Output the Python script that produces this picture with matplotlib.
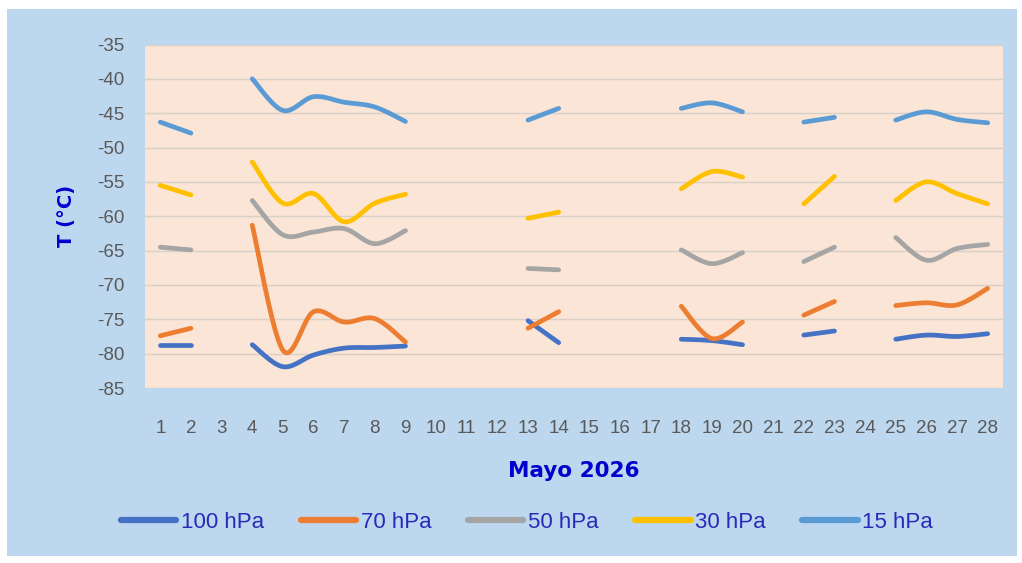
import numpy as np
import matplotlib
matplotlib.use("Agg")
import matplotlib.pyplot as plt
from matplotlib.patches import Rectangle
from matplotlib.lines import Line2D

# Days of May 2026 and daily temperatures (°C) at each pressure level; None = no sounding
days = list(range(1, 29))
N = None
t100 = [-78.7, -78.7, N, -78.7, -81.9, -80.2, -79.2, -79.1, -78.9, N, N, N, -75.2, -78.4,
        N, N, N, -77.9, -78.1, -78.7, N, -77.3, -76.7, N, -77.9, -77.3, -77.5, -77.1]
t70 = [-77.4, -76.3, N, -61.3, -79.5, -73.9, -75.4, -74.9, -78.3, N, N, N, -76.3, -73.9,
       N, N, N, -73.1, -77.8, -75.4, N, -74.4, -72.4, N, -73.0, -72.6, -72.9, -70.5]
t50 = [-64.5, -64.9, N, -57.7, -62.7, -62.3, -61.8, -64.0, -62.1, N, N, N, -67.6, -67.8,
       N, N, N, -64.9, -66.9, -65.3, N, -66.6, -64.5, N, -63.1, -66.4, -64.7, -64.1]
t30 = [-55.5, -56.9, N, -52.1, -58.1, -56.7, -60.8, -58.1, -56.8, N, N, N, -60.3, -59.4,
       N, N, N, -56.0, -53.5, -54.3, N, -58.2, -54.2, N, -57.7, -55.0, -56.7, -58.2]
t15 = [-46.3, -47.9, N, -40.0, -44.6, -42.6, -43.4, -44.1, -46.2, N, N, N, -46.0, -44.3,
       N, N, N, -44.3, -43.5, -44.8, N, -46.3, -45.6, N, -46.0, -44.8, -45.9, -46.4]

series = [("100 hPa", t100, "#4472C4"),
          ("70 hPa", t70, "#ED7D31"),
          ("50 hPa", t50, "#A5A5A5"),
          ("30 hPa", t30, "#FFC000"),
          ("15 hPa", t15, "#5B9BD5")]

yticks = list(range(-85, -34, 5))


def smooth(xs, ys, n=24):
    """Catmull-Rom curve through the points, like a spreadsheet smoothed line."""
    xs = np.asarray(xs, float)
    ys = np.asarray(ys, float)
    if len(xs) < 3:
        return xs, ys
    px = np.concatenate([[xs[0]], xs, [xs[-1]]])
    py = np.concatenate([[ys[0]], ys, [ys[-1]]])
    ox, oy = [], []
    t = np.linspace(0, 1, n, endpoint=False)
    for i in range(1, len(px) - 2):
        for p, out in ((px, ox), (py, oy)):
            p0, p1, p2, p3 = p[i - 1], p[i], p[i + 1], p[i + 2]
            c = 0.5 * ((2 * p1) + (-p0 + p2) * t + (2 * p0 - 5 * p1 + 4 * p2 - p3) * t ** 2
                       + (-p0 + 3 * p1 - 3 * p2 + p3) * t ** 3)
            out.extend(c)
    ox.append(xs[-1])
    oy.append(ys[-1])
    return np.array(ox), np.array(oy)


def runs(vals):
    seg = []
    for i, v in enumerate(vals):
        if v is None:
            if seg:
                yield seg
            seg = []
        else:
            seg.append(i)
    if seg:
        yield seg


fig = plt.figure(figsize=(10.22, 5.63), dpi=100)
fig.patch.set_facecolor("white")
fig.add_artist(Rectangle((7 / 1022, 1 - 556 / 563), 1010 / 1022, 547 / 563,
                         transform=fig.transFigure, facecolor="#BDD7EE",
                         edgecolor="none", zorder=0))

ax = fig.add_axes([145 / 1022, 1 - 388 / 563, 858 / 1022, 343.5 / 563])
ax.set_facecolor("#FBE5D6")
for s in ax.spines.values():
    s.set_visible(False)

for name, vals, col in series:
    for seg in runs(vals):
        sx, sy = smooth(seg, [vals[i] for i in seg])
        ax.plot(sx, sy, color=col, lw=3.4, solid_capstyle="round", zorder=3)

ax.set_xlim(-0.5, len(days) - 0.5)
ax.set_ylim(-85, -35)
ax.set_yticks(yticks)
ax.set_yticklabels([str(v) for v in yticks])
ax.set_xticks(range(len(days)))
ax.set_xticklabels([str(d) for d in days])
ax.yaxis.grid(True, color="#D9D0C8", lw=1.0)
ax.set_axisbelow(True)
ax.tick_params(length=0)
tick_font = dict(family=["Liberation Sans", "DejaVu Sans"], size=13.5)
for lab in ax.get_yticklabels():
    lab.set(color="#595959", **tick_font)
for lab in ax.get_xticklabels():
    lab.set(color="#595959", **tick_font)
ax.tick_params(axis="y", pad=15)
ax.tick_params(axis="x", pad=23)

ax.set_ylabel("T (°C)", color="#0000CC", fontsize=14, fontweight="bold", labelpad=15)
ax.set_xlabel("Mayo 2026", color="#0000CC", fontsize=15.5, fontweight="bold", labelpad=17)

handles = [Line2D([0], [0], color=c, lw=4.5, solid_capstyle="round") for _, _, c in series]
leg = fig.legend(handles, [n for n, _, _ in series], loc="center",
                 bbox_to_anchor=(527 / 1022, 1 - 522 / 563), ncol=5, frameon=False,
                 handlelength=2.5, handletextpad=0.2, columnspacing=1.65,
                 prop=dict(family=["Liberation Sans", "DejaVu Sans"], size=16))
for t in leg.get_texts():
    t.set_color("#2A2AB8")

fig.savefig("out.png", dpi=100, facecolor=fig.get_facecolor())
